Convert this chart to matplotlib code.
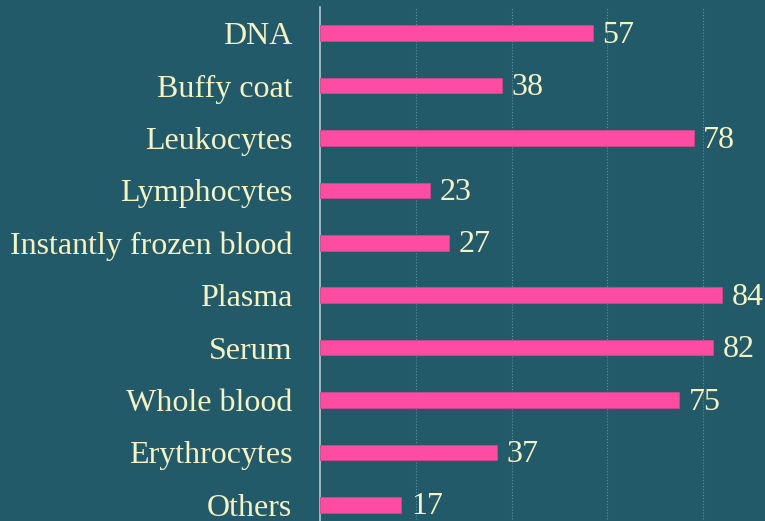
import matplotlib
matplotlib.use("Agg")
import matplotlib.pyplot as plt

categories = ["DNA", "Buffy coat", "Leukocytes", "Lymphocytes",
              "Instantly frozen blood", "Plasma", "Serum", "Whole blood",
              "Erythrocytes", "Others"]
values = [57, 38, 78, 23, 27, 84, 82, 75, 37, 17]

bg = "#235a69"
pink = "#ff4ca3"
cream = "#f5f2c4"

plt.rcParams["font.family"] = ["Liberation Serif", "DejaVu Serif"]

fig = plt.figure(figsize=(7.65, 5.21), dpi=100, facecolor=bg)
# axes run a bit past the bottom of the figure, like the cropped original
ax = fig.add_axes([320 / 765, -10 / 521, 445 / 765, 524 / 521], facecolor=bg)

y = list(range(len(categories)))
ax.barh(y, values, height=0.3, color=pink, edgecolor="#c84a8a", linewidth=0.6, zorder=3)
for yi, v in zip(y, values):
    ax.text(v + 2, yi + 0.04, str(v), va="center", ha="left", color=cream, fontsize=23, zorder=4)

ax.set_ylim(len(categories) - 0.5, -0.5)
ax.set_xlim(0, 92.9)
ax.set_yticks(y)
ax.set_yticklabels(categories, color=cream, fontsize=23)
ax.tick_params(axis="y", length=0, pad=20)
ax.set_xticks([20, 40, 60, 80])
ax.tick_params(axis="x", length=0, labelbottom=False)
ax.grid(axis="x", color="#5f8f9b", linestyle=":", linewidth=0.8, zorder=0)

for s in ["top", "right", "bottom"]:
    ax.spines[s].set_visible(False)
ax.spines["left"].set_color("#b8c8cc")
ax.spines["left"].set_linewidth(1.2)

fig.savefig("out.png", dpi=100, facecolor=bg)
